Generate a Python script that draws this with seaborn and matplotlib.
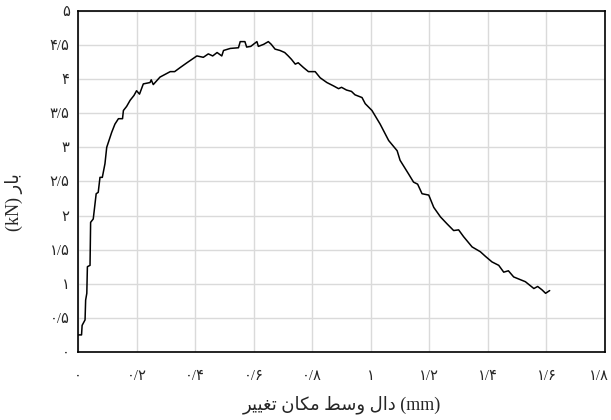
import pandas as pd
import matplotlib
matplotlib.use("Agg")
import matplotlib.pyplot as plt
import matplotlib.transforms as mtrans
import seaborn as sns

# midspan displacement (mm) and load (kN)
disp = [0.0, 0.012, 0.014, 0.024, 0.026, 0.03, 0.032, 0.041, 0.043, 0.052, 0.062, 0.069,
        0.075, 0.083, 0.092, 0.098, 0.115, 0.126, 0.138, 0.152, 0.155, 0.166, 0.178, 0.191,
        0.2, 0.21, 0.223, 0.246, 0.25, 0.257, 0.28, 0.315, 0.33, 0.349, 0.372, 0.389,
        0.406, 0.428, 0.445, 0.46, 0.475, 0.491, 0.497, 0.52, 0.548, 0.554, 0.57, 0.576,
        0.59, 0.611, 0.616, 0.634, 0.65, 0.66, 0.673, 0.69, 0.706, 0.718, 0.729, 0.742,
        0.752, 0.77, 0.787, 0.81, 0.827, 0.85, 0.873, 0.89, 0.9, 0.917, 0.934, 0.946,
        0.97, 0.981, 1.004, 1.032, 1.061, 1.09, 1.1, 1.129, 1.146, 1.16, 1.175, 1.198,
        1.215, 1.238, 1.26, 1.283, 1.3, 1.317, 1.346, 1.374, 1.392, 1.414, 1.437, 1.454,
        1.47, 1.488, 1.505, 1.528, 1.557, 1.57, 1.585, 1.597, 1.611]
load = [0.25, 0.25, 0.39, 0.47, 0.76, 0.86, 1.25, 1.27, 1.9, 1.95, 2.32, 2.34,
        2.56, 2.56, 2.76, 3.0, 3.22, 3.34, 3.42, 3.42, 3.54, 3.6, 3.69, 3.76,
        3.83, 3.78, 3.93, 3.95, 3.99, 3.92, 4.03, 4.11, 4.11, 4.17, 4.24, 4.29,
        4.34, 4.32, 4.37, 4.34, 4.39, 4.34, 4.42, 4.45, 4.46, 4.55, 4.55, 4.47,
        4.48, 4.55, 4.48, 4.51, 4.55, 4.51, 4.44, 4.42, 4.39, 4.34, 4.29, 4.22,
        4.24, 4.17, 4.11, 4.11, 4.02, 3.95, 3.90, 3.86, 3.88, 3.84, 3.82, 3.77,
        3.73, 3.64, 3.54, 3.34, 3.10, 2.95, 2.81, 2.61, 2.49, 2.46, 2.32, 2.30,
        2.12, 1.98, 1.88, 1.78, 1.79, 1.69, 1.54, 1.47, 1.40, 1.32, 1.27, 1.17,
        1.19, 1.10, 1.07, 1.03, 0.93, 0.96, 0.91, 0.86, 0.90]

x_ticks = [0, 0.2, 0.4, 0.6, 0.8, 1.0, 1.2, 1.4, 1.6, 1.8]
x_labels = ['۰', '۰/۲', '۰/۴', '۰/۶', '۰/۸', '۱', '۱/۲', '۱/۴', '۱/۶', '۱/۸']
y_ticks = [0, 0.5, 1, 1.5, 2, 2.5, 3, 3.5, 4, 4.5, 5]
y_labels = ['۰', '۰/۵', '۱', '۱/۵', '۲', '۲/۵', '۳', '۳/۵', '۴', '۴/۵', '۵']

# Persian axis titles, written glyph by glyph in display order (matplotlib does no shaping)
x_title = '\uFEAE\uFBFF\uFBFF\uFED0\uFE97 \uFEE5\uFE8E\uFB91\uFEE3 \uFEC2\uFEB3\uFEED \uFEDD\uFE8D\uFEA9 (mm)'
y_title = '(kN) \uFEAD\uFE8E\uFE91'

df = pd.DataFrame({'disp': disp, 'load': load})

sns.set_style("white")
plt.rcParams['font.family'] = ['Liberation Serif', 'DejaVu Sans']

fig = plt.figure(figsize=(6.11, 4.2), dpi=100)
ax = fig.add_axes([0.1277, 0.162, 0.8625, 0.812])

sns.lineplot(x='disp', y='load', data=df, ax=ax, color='black', linewidth=1.1,
             sort=False, estimator=None)

ax.set_xlim(0, 1.8)
ax.set_ylim(0, 5)
ax.set_xticks(x_ticks)
ax.set_xticklabels(x_labels, fontsize=10.5)
ax.set_yticks(y_ticks)
ax.set_yticklabels(y_labels, fontsize=10.5)
ax.tick_params(axis='both', length=0)
ax.tick_params(axis='x', pad=13)
ax.tick_params(axis='y', pad=6)
ax.grid(True, color='#dadada', linewidth=1)
for s in ax.spines.values():
    s.set_color('black')
    s.set_linewidth(1.2)

# last x label sits at the figure edge, nudge it a bit left so it stays inside
last = ax.get_xticklabels()[-1]
last.set_transform(last.get_transform() + mtrans.ScaledTranslation(-6 / 100, 0, fig.dpi_scale_trans))

ax.set_xlabel(x_title, fontsize=13, labelpad=9)
ax.set_ylabel(y_title, fontsize=13)
ax.yaxis.set_label_coords(-0.104, 0.44)

fig.savefig('out.png', dpi=100)
